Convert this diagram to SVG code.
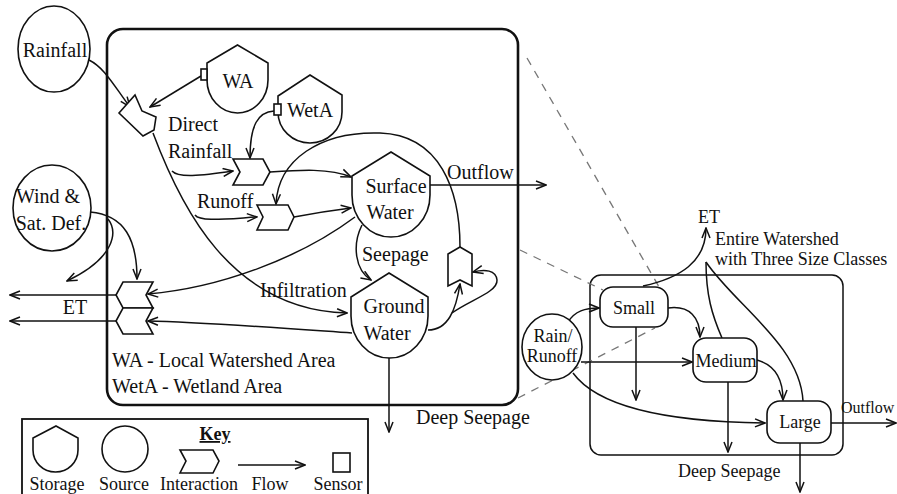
<svg xmlns="http://www.w3.org/2000/svg" width="897" height="494" viewBox="0 0 897 494">
  <style>
    .t { font-family: "Liberation Serif", "Times New Roman", serif; fill: #111; }
    .f20 { font-size: 20px; }
    .f18 { font-size: 18px; }
    .mid { text-anchor: middle; }
    .shape { fill: #fff; stroke: #111; stroke-width: 1.6; }
    .line { fill: none; stroke: #111; stroke-width: 1.5; }
    .arr { fill: none; stroke: #111; stroke-width: 1.5; marker-end: url(#arrow); }
    .dash { fill: none; stroke: #777; stroke-width: 1.3; stroke-dasharray: 8 7; }
    .frame { fill: none; stroke: #111; }
  </style>
  <defs>
    <marker id="arrow" viewBox="0 0 12 10" refX="11" refY="5" markerWidth="12" markerHeight="10" markerUnits="userSpaceOnUse" orient="auto">
      <path d="M1,1 L11,5 L1,9" fill="none" stroke="#111" stroke-width="1.5"/>
    </marker>
  </defs>
  <rect width="897" height="494" fill="#fff"/>

  <!-- frames -->
  <g id="frames">
    <rect class="frame" x="107" y="29" width="411" height="376" rx="16" stroke-width="2.6"/>
    <rect class="frame" x="590" y="275" width="253" height="180" rx="11" stroke-width="1.5"/>
    <rect class="frame" x="22" y="419" width="346" height="90" stroke-width="1.8"/>
  </g>

  <!-- zoom guide lines -->
  <g id="guides">
    <line class="dash" x1="527" y1="58" x2="662" y2="292"/>
    <line class="dash" x1="520" y1="250" x2="603" y2="290"/>
    <line class="dash" x1="518" y1="398" x2="655" y2="328"/>
  </g>

  <!-- connectors -->
  <g id="connectors">
    <!-- rainfall and sensors into rainfall interaction -->
    <path class="arr" d="M89 60 C105 68, 114 86, 130 107"/>
    <line class="arr" x1="201" y1="76" x2="150" y2="107"/>
    <path class="arr" d="M274 111 C258 112, 250 125, 250 158"/>
    <!-- infiltration with branches -->
    <path class="arr" d="M153 133 C180 205, 230 310, 347 313"/>
    <path class="arr" d="M172 171 C178 178, 200 176, 233 171"/>
    <path class="arr" d="M195 215 C200 222, 225 219, 257 217"/>
    <!-- into surface water -->
    <path class="arr" d="M270 172 C300 170, 330 168, 351 177"/>
    <path class="arr" d="M294 217 C315 213, 335 210, 351 208"/>
    <!-- surface water outflow -->
    <line class="arr" x1="430" y1="185" x2="546" y2="185"/>
    <!-- seepage -->
    <path class="arr" d="M362 225 C352 245, 355 270, 371 280"/>
    <!-- ET from surface water and ground water -->
    <path class="arr" d="M355 217 C300 258, 220 288, 148 294"/>
    <path class="arr" d="M352 333 C280 328, 200 322, 148 321"/>
    <!-- ET out -->
    <line class="arr" x1="116" y1="295" x2="10" y2="295"/>
    <line class="arr" x1="116" y1="321" x2="10" y2="321"/>
    <!-- wind and saturation deficit -->
    <path class="arr" d="M90 212 C125 215, 137 240, 137 279"/>
    <path class="arr" d="M108 219 C118 232, 115 258, 67 281"/>
    <!-- ground water to vertical interaction, feedback loop -->
    <path class="arr" d="M428 330 C448 330, 456 310, 460 284"/>
    <path class="arr" d="M452 313 C470 300, 498 292, 497 280 C496 270, 485 269, 473 272"/>
    <path class="arr" d="M460 247 C460 190, 440 135, 380 133 C320 131, 278 160, 276 204"/>
    <!-- deep seepage -->
    <line class="arr" x1="389" y1="358" x2="389" y2="432"/>

    <!-- right panel -->
    <path class="arr" d="M568 322 C575 311, 585 308, 599 308"/>
    <line class="arr" x1="581" y1="362" x2="692" y2="362"/>
    <path class="arr" d="M573 373 C600 410, 680 422, 765 423"/>
    <path class="arr" d="M668 308 C690 305, 700 318, 700 337"/>
    <line class="arr" x1="636" y1="327" x2="636" y2="400"/>
    <path class="arr" d="M643 286 C680 278, 706 262, 706 228"/>
    <path class="line" d="M722 338 C712 315, 706 295, 706 262"/>
    <path class="line" d="M803 401 C800 345, 735 305, 706 262"/>
    <path class="arr" d="M757 360 C775 365, 783 380, 783 400"/>
    <line class="arr" x1="728" y1="382" x2="728" y2="452"/>
    <line class="arr" x1="800" y1="443" x2="800" y2="492"/>
    <line class="arr" x1="831" y1="423" x2="896" y2="423"/>
  </g>

  <!-- sources -->
  <g id="rainfall">
    <ellipse class="shape" cx="54" cy="49" rx="36" ry="43"/>
    <text class="t f20 mid" x="55" y="57">Rainfall</text>
  </g>
  <g id="wind">
    <ellipse class="shape" cx="52" cy="208" rx="39" ry="43"/>
    <text class="t f20 mid" x="48" y="203">Wind &amp;</text>
    <text class="t f20 mid" x="51" y="230">Sat. Def.</text>
  </g>

  <!-- storages -->
  <g id="wa">
    <path class="shape" d="M237.5 45 L268 63 L268 80 A30.5 33 0 0 1 207 80 L207 63 Z"/>
    <rect class="shape" x="201" y="69" width="6" height="11"/>
    <text class="t f20 mid" x="238" y="88">WA</text>
  </g>
  <g id="weta">
    <path class="shape" d="M310 75 L342 95 L342 112 A32 31 0 0 1 278 112 L278 96 Z"/>
    <rect class="shape" x="274" y="104" width="7" height="11"/>
    <text class="t f20 mid" x="310" y="117">WetA</text>
  </g>
  <g id="surface-water">
    <path class="shape" d="M391 152 L430 176 L430 195 A39 42 0 0 1 352 195 L352 176 Z"/>
    <text class="t f20 mid" x="396" y="193">Surface</text>
    <text class="t f20 mid" x="390" y="219">Water</text>
  </g>
  <g id="ground-water">
    <path class="shape" d="M389 273 L428 297 L428 316 A38.5 42 0 0 1 351 316 L351 297 Z"/>
    <text class="t f20 mid" x="394" y="313">Ground</text>
    <text class="t f20 mid" x="387" y="340">Water</text>
  </g>

  <!-- interactions -->
  <g id="rain-interaction">
    <polygon class="shape" points="119,113 135,95 142,111 156,117 154,130 143,136"/>
  </g>
  <g id="direct-interaction">
    <polygon class="shape" points="233,159 263,159 270,172 263,185 233,185 240,172"/>
  </g>
  <g id="runoff-interaction">
    <polygon class="shape" points="257,205 288,205 294,217 288,230 257,230 263,217"/>
  </g>
  <g id="et-interaction-1">
    <polygon class="shape" points="123,282 153,282 146,295 153,308 123,308 116,295"/>
  </g>
  <g id="et-interaction-2">
    <polygon class="shape" points="123,308 153,308 146,321 153,334 123,334 116,321"/>
  </g>
  <g id="gw-interaction">
    <polygon class="shape" points="460,247 472,254 472,286 460,280 448,286 448,254"/>
  </g>

  <!-- flow labels -->
  <g id="labels">
    <text class="t f20" x="168" y="131">Direct</text>
    <text class="t f20" x="168" y="158">Rainfall</text>
    <text class="t f20" x="197" y="208">Runoff</text>
    <text class="t f20" x="447" y="179">Outflow</text>
    <text class="t f20" x="362" y="261">Seepage</text>
    <text class="t f20" x="260" y="297">Infiltration</text>
    <text class="t f20 mid" x="75" y="314">ET</text>
    <text class="t f20" x="112" y="367">WA - Local Watershed Area</text>
    <text class="t f20" x="112" y="393">WetA - Wetland Area</text>
    <text class="t f20" x="416" y="424">Deep Seepage</text>
    <text class="t f18 mid" x="709" y="223">ET</text>
    <text class="t f18" x="715" y="245">Entire Watershed</text>
    <text class="t f18" x="715" y="265">with Three Size Classes</text>
    <text class="t" x="841" y="413" font-size="16">Outflow</text>
    <text class="t f18" x="678" y="477">Deep Seepage</text>
  </g>

  <!-- size classes -->
  <g id="rain-runoff">
    <ellipse class="shape" cx="552" cy="347" rx="30" ry="33"/>
    <text class="t f18 mid" x="553" y="342">Rain/</text>
    <text class="t f18 mid" x="552" y="362">Runoff</text>
  </g>
  <g id="small">
    <rect class="shape" x="600" y="287" width="68" height="40" rx="13" stroke-width="2.4"/>
    <text class="t f18 mid" x="634" y="314">Small</text>
  </g>
  <g id="medium">
    <rect class="shape" x="693" y="338" width="64" height="44" rx="13"/>
    <text class="t f18 mid" x="726" y="367">Medium</text>
  </g>
  <g id="large">
    <rect class="shape" x="767" y="401" width="64" height="42" rx="13"/>
    <text class="t f18 mid" x="800" y="428">Large</text>
  </g>

  <!-- key -->
  <g id="key">
    <text class="t f18 mid" x="215" y="440" font-weight="bold" text-decoration="underline">Key</text>
    <path class="shape" d="M56 426 L78 438 L78 450 A22.5 22 0 0 1 33 450 L33 438 Z"/>
    <circle class="shape" cx="125" cy="449" r="23"/>
    <polygon class="shape" points="180,450 213,450 219,461 213,473 180,473 186,461"/>
    <line class="arr" x1="238" y1="465" x2="305" y2="465"/>
    <rect class="shape" x="333" y="453" width="17" height="19"/>
    <text class="t f18 mid" x="57" y="490">Storage</text>
    <text class="t f18 mid" x="124" y="490">Source</text>
    <text class="t f18 mid" x="199" y="490">Interaction</text>
    <text class="t f18 mid" x="270" y="490">Flow</text>
    <text class="t f18 mid" x="338" y="490">Sensor</text>
  </g>
</svg>
